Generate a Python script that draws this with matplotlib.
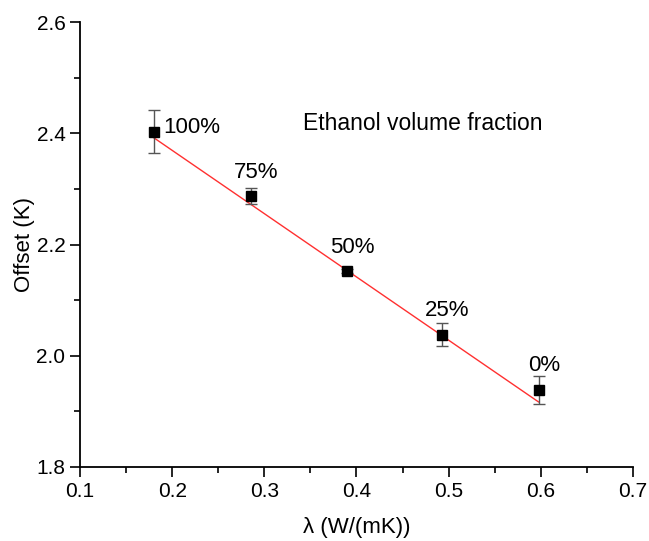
import numpy as np
import matplotlib.pyplot as plt
from matplotlib.ticker import MultipleLocator

plt.rcParams['font.family'] = ['Liberation Sans', 'DejaVu Sans']

# datos
conductividad = [0.18, 0.2855, 0.39, 0.4928, 0.5975]
offset = [2.403, 2.287, 2.152, 2.038, 1.939]
error = [0.038, 0.015, 0.004, 0.021, 0.025]
etiquetas = ["100%", "75%", "50%", "25%", "0%"]

# recta de ajuste
ajuste_x = [0.18, 0.5975]
ajuste_y = [2.392, 1.917]

fig = plt.figure(figsize=(6.49, 5.41), dpi=100)
ax = fig.add_axes([0.1233, 0.1368, 0.852, 0.8225])

ax.plot(ajuste_x, ajuste_y, color='#ff3030', lw=1.0, zorder=2)
ax.errorbar(conductividad, offset, yerr=error, fmt='s', color='black',
            markersize=7, ecolor='#555555', elinewidth=1, capsize=4,
            capthick=1, zorder=3)

# etiquetas de cada punto
ax.text(0.19, 2.411, etiquetas[0], fontsize=16, ha='left', va='center')
for x, y, e in zip(conductividad[1:], offset[1:], etiquetas[1:]):
    ax.text(x + 0.006, y + 0.043, e, fontsize=16, ha='center', va='center')

ax.text(0.342, 2.417, "Ethanol volume fraction", fontsize=16.5, ha='left', va='center')

ax.set_xlim(0.1, 0.7)
ax.set_ylim(1.8, 2.6)
ax.xaxis.set_major_locator(MultipleLocator(0.1))
ax.xaxis.set_minor_locator(MultipleLocator(0.05))
ax.yaxis.set_major_locator(MultipleLocator(0.2))
ax.yaxis.set_minor_locator(MultipleLocator(0.1))

for lado in ['top', 'right']:
    ax.spines[lado].set_visible(False)
for lado in ['left', 'bottom']:
    ax.spines[lado].set_linewidth(1.3)

ax.tick_params(which='major', direction='out', length=7, width=1.2, labelsize=15)
ax.tick_params(which='minor', direction='out', length=4, width=1.2)

ax.set_xlabel('λ (W/(mK))', fontsize=16, labelpad=12)
ax.set_ylabel('Offset (K)', fontsize=16, labelpad=1)

fig.savefig('out.png', dpi=100)
